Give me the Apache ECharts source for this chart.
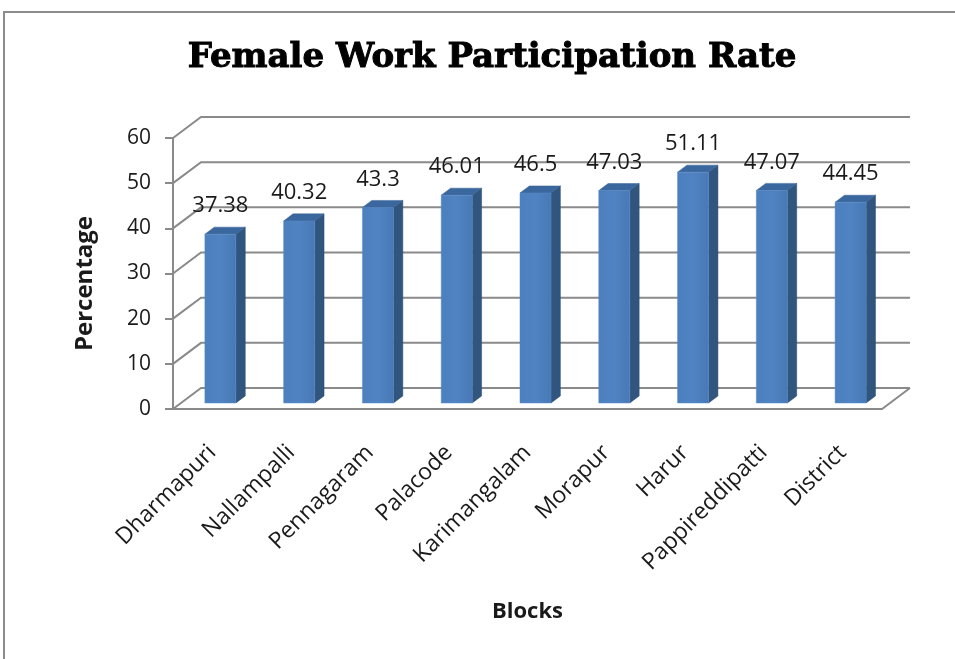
<!DOCTYPE html>
<html>
<head>
<meta charset="utf-8">
<script src="https://cdn.jsdelivr.net/npm/echarts@6/dist/echarts.min.js"></script>
<style>
  html, body { margin: 0; padding: 0; background: #fff; }
  #chart { width: 955px; height: 659px; }
</style>
</head>
<body>
<div id="chart"></div>
<script>
// Block-wise female work participation rate (%)
const categories = ['Dharmapuri', 'Nallampalli', 'Pennagaram', 'Palacode', 'Karimangalam', 'Morapur', 'Harur', 'Pappireddipatti', 'District'];
const rates = [37.38, 40.32, 43.3, 46.01, 46.5, 47.03, 51.11, 47.07, 44.45];
const yTicks = [0, 10, 20, 30, 40, 50, 60];

// Pseudo-3D depth of the plot box (pixels from front plane to back wall)
const DEPTH_X = 28, DEPTH_Y = -21;
// Bars occupy this slice of the depth
const BAR_FRONT = 0.286, BAR_BACK = 0.62;
const BAR_WIDTH = 0.394; // share of a category band

const GRID_COLOR = '#8a8a8a';
const FONT = '"Open Sans", "Liberation Sans", sans-serif';

const chart = echarts.init(document.getElementById('chart'));

function renderWalls(params, api) {
  const cs = params.coordSys;
  const t = api.value(1);
  const y = api.coord([0, t])[1];
  const left = cs.x, right = cs.x + cs.width;
  const pts = [[left, y], [left + DEPTH_X, y + DEPTH_Y], [right + DEPTH_X, y + DEPTH_Y]];
  const children = [{
    type: 'polyline',
    shape: { points: pts },
    style: { stroke: GRID_COLOR, lineWidth: 2, fill: null }
  }];
  if (t === 0) {
    // floor front edge and right edge
    children.push({
      type: 'polyline',
      shape: { points: [[left, y], [right, y], [right + DEPTH_X, y + DEPTH_Y]] },
      style: { stroke: GRID_COLOR, lineWidth: 2, fill: null }
    });
  }
  return { type: 'group', children: children };
}

function renderBar(params, api) {
  const idx = api.value(0);
  const v = api.value(1);
  const base = api.coord([idx, 0]);
  const top = api.coord([idx, v]);
  const band = api.size([1, 0])[0];
  const w = band * BAR_WIDTH;
  const ox = DEPTH_X * BAR_FRONT, oy = DEPTH_Y * BAR_FRONT;
  const dx = DEPTH_X * (BAR_BACK - BAR_FRONT), dy = DEPTH_Y * (BAR_BACK - BAR_FRONT);
  const x0 = top[0] - w / 2 + ox, x1 = x0 + w;
  const yT = top[1] + oy, yB = base[1] + oy;
  return {
    type: 'group',
    children: [
      {
        type: 'polygon',
        shape: { points: [[x1, yT], [x1 + dx, yT + dy], [x1 + dx, yB + dy], [x1, yB]] },
        style: { fill: '#30557f', stroke: '#2b4c73', lineWidth: 0.5 }
      },
      {
        type: 'polygon',
        shape: { points: [[x0, yT], [x0 + dx, yT + dy], [x1 + dx, yT + dy], [x1, yT]] },
        style: { fill: '#3b679f', stroke: '#36608f', lineWidth: 0.5 }
      },
      {
        type: 'rect',
        shape: { x: x0, y: yT, width: w, height: yB - yT },
        style: {
          fill: new echarts.graphic.LinearGradient(0, 0, 1, 0, [
            { offset: 0, color: '#4b7fbd' },
            { offset: 0.5, color: '#5083c2' },
            { offset: 1, color: '#4879b6' }
          ]),
          stroke: '#5a8cc8', lineWidth: 0.5
        }
      },
      {
        type: 'text',
        style: {
          text: String(v),
          x: (x0 + x1) / 2,
          y: yT - 17,
          align: 'center',
          verticalAlign: 'bottom',
          fill: '#1a1a1a',
          font: '22px ' + FONT
        }
      }
    ]
  };
}

chart.setOption({
  animation: false,
  title: {
    text: 'Female Work Participation Rate',
    left: 487,
    top: 36,
    textAlign: 'center',
    textStyle: {
      fontFamily: '"DejaVu Serif", serif',
      fontWeight: 'bold',
      fontSize: 34,
      color: '#000',
      textBorderColor: '#000',
      textBorderWidth: 1
    }
  },
  graphic: [
    {
      type: 'polyline',
      shape: { points: [[4, 659], [4, 12], [955, 12]] },
      style: { stroke: '#8c8c8c', lineWidth: 2, fill: null },
      silent: true
    }
  ],
  grid: { left: 173, right: 73, top: 138, bottom: 250 },
  xAxis: {
    type: 'category',
    data: categories,
    name: 'Blocks',
    nameLocation: 'middle',
    nameGap: 192,
    nameTextStyle: { fontFamily: FONT, fontWeight: 'bold', fontSize: 22, color: '#1a1a1a' },
    axisLine: { show: false },
    axisTick: { show: false },
    axisLabel: {
      rotate: 45,
      margin: 40,
      interval: 0,
      fontFamily: FONT,
      fontSize: 23,
      color: '#1a1a1a'
    }
  },
  yAxis: {
    type: 'value',
    min: 0,
    max: 60,
    interval: 10,
    name: 'Percentage',
    nameLocation: 'middle',
    nameGap: 76,
    nameTextStyle: { fontFamily: FONT, fontWeight: 'bold', fontSize: 24, color: '#1a1a1a', padding: [0, 20, 0, 0] },
    axisLine: { show: true, lineStyle: { color: GRID_COLOR, width: 2 } },
    axisTick: { show: true, length: 8, lineStyle: { color: GRID_COLOR, width: 2 } },
    splitLine: { show: false },
    axisLabel: { margin: 22, fontFamily: FONT, fontSize: 21, color: '#1a1a1a' }
  },
  series: [
    {
      type: 'custom',
      name: 'walls',
      renderItem: renderWalls,
      data: yTicks.map(t => [0, t]),
      encode: { x: 0, y: 1 },
      z: 1,
      silent: true
    },
    {
      type: 'custom',
      name: 'Female Work Participation Rate',
      renderItem: renderBar,
      data: rates.map((r, i) => [i, r]),
      encode: { x: 0, y: 1 },
      z: 2
    }
  ]
});
</script>
</body>
</html>
